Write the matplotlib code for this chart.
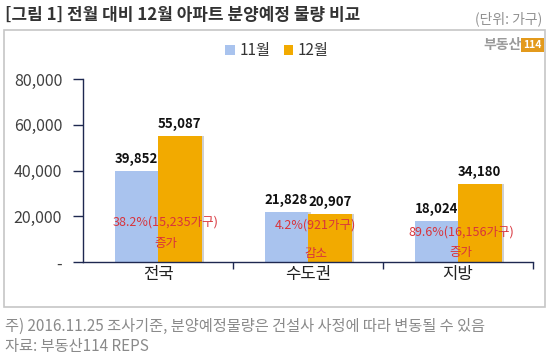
import matplotlib
matplotlib.use("Agg")
import matplotlib.pyplot as plt
from matplotlib.patches import Rectangle
import numpy as np

plt.rcParams['font.family'] = ['Noto Sans CJK KR', 'DejaVu Sans']

categories = ['전국', '수도권', '지방']
nov = [39852, 21828, 18024]
dec = [55087, 20907, 34180]
series_names = ['11월', '12월']
notes = ['38.2%(15,235가구)', '4.2%(921가구)', '89.6%(16,156가구)']
note_words = ['증가', '감소', '증가']
yticks = [0, 20000, 40000, 60000, 80000]
ytick_labels = ['-', '20,000', '40,000', '60,000', '80,000']

BLUE = '#a9c3ee'
ORANGE = '#f2aa00'
AXC = '#1e2850'
RED = '#d8343c'

W, H = 550, 355
fig = plt.figure(figsize=(W/100, H/100), dpi=100)

def fx(px): return px / W
def fy(py): return 1 - py / H

# outer frame
fig.patches.append(Rectangle((fx(4), fy(307)), fx(545) - fx(4), fy(30) - fy(307),
                             transform=fig.transFigure, fill=False,
                             edgecolor='#c6c6c6', linewidth=1.2, zorder=0))

ax = fig.add_axes([fx(83), fy(262), fx(533) - fx(83), fy(79) - fy(262)])
x = np.arange(len(categories))
bw = 0.29
# subtle shadows
ax.bar(x - bw/2 + 0.018, nov, bw, color='#d4d4d4', zorder=1)
ax.bar(x + bw/2 + 0.018, dec, bw, color='#cfcfcf', zorder=1)
ax.bar(x - bw/2, nov, bw, color=BLUE, zorder=2, label=series_names[0])
ax.bar(x + bw/2, dec, bw, color=ORANGE, zorder=2, label=series_names[1])

ax.set_xlim(-0.5, 2.5)
ax.set_ylim(0, 80000)
for s in ['top', 'right']:
    ax.spines[s].set_visible(False)
for s in ['left', 'bottom']:
    ax.spines[s].set_color(AXC)
    ax.spines[s].set_linewidth(1.0)

ax.set_yticks(yticks)
ax.set_yticklabels(ytick_labels)
ax.tick_params(axis='y', direction='out', length=7, width=1, color=AXC,
               labelsize=11.5, labelcolor='#404040', pad=8)
ax.set_xticks([0.5, 1.5, 2.5])
ax.set_xticklabels([])
ax.tick_params(axis='x', direction='out', length=5, width=1, color=AXC)
for i, c in enumerate(categories):
    ax.text(i, -5500, c, ha='center', va='center', fontsize=12, color='#222222')

# value labels
for i in range(len(categories)):
    ax.text(i - bw/2, nov[i] + 2300, f'{nov[i]:,}', ha='center', va='bottom',
            fontsize=9.5, fontweight='bold', color='#111111', zorder=3)
    ax.text(i + bw/2, dec[i] + 2300, f'{dec[i]:,}', ha='center', va='bottom',
            fontsize=9.5, fontweight='bold', color='#111111', zorder=3)

note_dx = [0.05, 0.05, 0.02]
note_y = [(17500, 8000), (16200, 3600), (13200, 4000)]
for i in range(len(categories)):
    ax.text(i + note_dx[i], note_y[i][0], notes[i], ha='center', va='center',
            fontsize=9, color=RED, zorder=3)
    ax.text(i + note_dx[i], note_y[i][1], note_words[i], ha='center', va='center',
            fontsize=9, color=RED, zorder=3)

# legend
leg = ax.legend(loc='center', frameon=False,
                ncol=2, fontsize=11, handlelength=0.6, handleheight=0.6,
                handletextpad=0.3, columnspacing=0.9)
leg.set_bbox_to_anchor((fx(277), fy(51)), transform=fig.transFigure)
for t in leg.get_texts():
    t.set_color('#333333')

# title and captions
fig.text(fx(5), fy(15), '[그림 1] 전월 대비 12월 아파트 분양예정 물량 비교', ha='left',
         va='center', fontsize=12.2, fontweight='bold', color='#333333')
fig.text(fx(542), fy(19), '(단위: 가구)', ha='right', va='center', fontsize=10,
         color='#909090')
fig.text(fx(522), fy(45), '부동산', ha='right', va='center', fontsize=10,
         fontweight='bold', color='#9a9a9a')
fig.text(fx(532.5), fy(45), '114', ha='center', va='center', fontsize=7.5,
         fontweight='bold', color='white',
         bbox=dict(boxstyle='square,pad=0.2', facecolor='#e39a1c', edgecolor='none'))
fig.text(fx(5), fy(326), '주) 2016.11.25 조사기준, 분양예정물량은 건설사 사정에 따라 변동될 수 있음',
         ha='left', va='center', fontsize=11, color='#8a8a8a')
fig.text(fx(5), fy(347), '자료: 부동산114 REPS', ha='left', va='center', fontsize=11,
         color='#8a8a8a')

fig.savefig('out.png', dpi=100)
